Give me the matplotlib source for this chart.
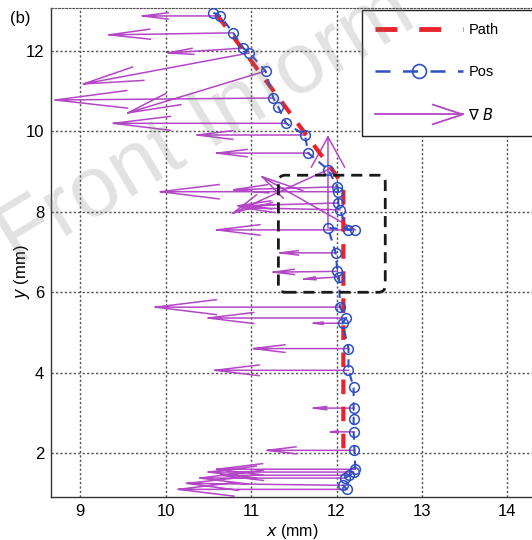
# -*- coding: utf-8 -*-
import numpy as np
import matplotlib
matplotlib.use('Agg')
import matplotlib.pyplot as plt
from matplotlib.lines import Line2D
from matplotlib.patches import FancyBboxPatch
from matplotlib.legend_handler import HandlerBase

plt.rcParams['font.family'] = ['Liberation Sans', 'DejaVu Sans']
plt.rcParams['mathtext.fontset'] = 'dejavusans'

# 规划路径 (Path)
path_x = [10.60, 12.00, 12.08, 12.08]
path_y = [12.90, 8.90, 8.60, 2.10]

# 定位结果 (Pos)
pos_x = [10.56, 10.64, 10.79, 10.91, 10.98, 11.17, 11.26, 11.32, 11.41, 11.63,
         11.67, 11.90, 12.01, 12.02, 12.02, 12.04, 12.13, 12.22, 11.90, 11.99,
         12.01, 12.03, 12.04, 12.11, 12.07, 12.14, 12.14, 12.20, 12.20, 12.20,
         12.20, 12.21, 12.22, 12.20, 12.15, 12.10, 12.08, 12.12]
pos_y = [12.95, 12.87, 12.45, 12.07, 11.95, 11.50, 10.83, 10.60, 10.20, 9.91,
         9.46, 9.05, 8.62, 8.50, 8.22, 8.05, 7.55, 7.55, 7.60, 6.98,
         6.52, 6.38, 5.63, 5.36, 5.23, 4.60, 4.06, 3.64, 3.12, 2.85,
         2.53, 2.07, 1.60, 1.53, 1.45, 1.38, 1.20, 1.10]

# 磁场梯度 (grad B)
grad_u = [0.00, -0.91, -1.45, -0.88, -1.94, -1.61, -2.55, 0.00, -2.02, -1.26,
          -1.07, -1.11, -1.21, -2.08, -1.17, -1.14, -1.53, -1.09, 0.00, -0.65,
          -0.75, -0.41, -2.16, -1.61, -0.34, -1.11, -1.56, 0.00, -0.47, 0.00,
          -0.27, -1.02, -1.62, -1.70, -1.50, -1.70, -1.83, -1.97]
grad_v = [0.00, 0.00, -0.05, -0.12, -0.77, -1.04, -0.05, 0.00, 0.00, 0.00,
          0.00, -1.08, -0.07, 0.00, -0.07, 0.05, 0.00, 1.32, 2.26, 0.00,
          -0.02, -0.05, 0.00, 0.00, 0.00, 0.00, 0.00, 0.00, 0.00, 0.00,
          0.00, 0.00, 0.00, 0.00, 0.00, 0.00, 0.05, 0.00]

# 放大区域
box_x = [11.32, 12.57]
box_y = [6.00, 8.91]

c_path = '#e8232b'
c_pos = '#2f4fc4'
c_arrow = '#b347c6'
c_grid = '#555050'

fig = plt.figure(figsize=(5.32, 5.40), dpi=100)
ax = fig.add_axes([51 / 532, 1 - 497 / 540, 483 / 532, (497 - 8.3) / 540])
ax.set_xlim(8.66, 14.31)
ax.set_ylim(0.91, 13.06)
ax.set_xticks([9, 10, 11, 12, 13, 14])
ax.set_yticks([2, 4, 6, 8, 10, 12])
ax.grid(True, linestyle=(0, (1.6, 1.6)), color=c_grid, linewidth=1.0)
ax.set_axisbelow(True)
ax.tick_params(length=0, labelsize=12, pad=5)
for s in ['left', 'bottom']:
    ax.spines[s].set_color('#333333')
    ax.spines[s].set_linewidth(1.0)
ax.spines['top'].set_linestyle((0, (1.6, 1.6)))
ax.spines['top'].set_color(c_grid)
ax.spines['right'].set_visible(False)

# 箭头 (仿 MATLAB quiver 的开口箭头)
alpha, beta = 0.33, 0.26
ax_x, ax_y = [], []
for x, y, du, dv in zip(pos_x, pos_y, grad_u, grad_v):
    if du == 0 and dv == 0:
        continue
    tx, ty = x + du, y + dv
    ax_x += [x, tx, np.nan,
             tx - alpha * (du + beta * dv), tx, tx - alpha * (du - beta * dv), np.nan]
    ax_y += [y, ty, np.nan,
             ty - alpha * (dv - beta * du), ty, ty - alpha * (dv + beta * du), np.nan]
ax.plot(ax_x, ax_y, color=c_arrow, lw=1.1, zorder=2)

ax.plot(path_x, path_y, color=c_path, lw=3.0, linestyle=(0, (3.5, 3.0)), zorder=3)
ax.plot(pos_x, pos_y, color=c_pos, lw=1.5, linestyle=(0, (4, 3)), marker='o',
        markersize=7, markerfacecolor='none', markeredgecolor=c_pos,
        markeredgewidth=1.1, zorder=4)

box = FancyBboxPatch((box_x[0], box_y[0]), box_x[1] - box_x[0], box_y[1] - box_y[0],
                     boxstyle='round,pad=0,rounding_size=0.08', mutation_aspect=85.4 / 40.2,
                     fill=False, edgecolor='#1a1a1a', lw=2.0, linestyle=(0, (4, 2.5)), zorder=5)
ax.add_patch(box)

ax.set_xlabel(r'$x$ (mm)', fontsize=11.5, labelpad=2)
ax.set_ylabel(r'$y$ (mm)', fontsize=12)
ax.yaxis.set_label_coords(-0.04, 0.462)


class ArrowHandler(HandlerBase):
    def create_artists(self, legend, orig_handle, xdescent, ydescent, width, height,
                       fontsize, trans):
        y = height / 2 - ydescent
        x0 = -xdescent
        x1 = x0 + width
        hl = 0.34 * width
        shaft = Line2D([x0, x1], [y, y], color=c_arrow, lw=1.3, transform=trans)
        head = Line2D([x1 - hl, x1, x1 - hl], [y + 0.33 * hl, y, y - 0.33 * hl],
                      color=c_arrow, lw=1.3, transform=trans)
        return [shaft, head]


h_path = Line2D([], [], color=c_path, lw=3.5, linestyle=(0, (4.5, 4.5)))
h_pos = Line2D([], [], color=c_pos, lw=1.8, linestyle=(0, (6, 5)), marker='o',
               markersize=10, markerfacecolor='none', markeredgecolor=c_pos, markeredgewidth=1.2)
h_arr = Line2D([], [], color=c_arrow)
leg = ax.legend([h_path, h_pos, h_arr], ['Path', 'Pos', r'$\nabla\ B$'],
                handler_map={h_arr: ArrowHandler()},
                loc='upper left', bbox_to_anchor=(362 / 532, 0, 175 / 532, 1 - 10 / 540),
                bbox_transform=fig.transFigure, mode='expand', borderaxespad=0,
                fontsize=10.5, handlelength=6.0, handletextpad=0.4, labelspacing=1.9,
                borderpad=0.9, fancybox=False, framealpha=1)
leg.get_frame().set_edgecolor('#222222')
leg.get_frame().set_linewidth(1.0)
leg.set_zorder(10)

fig.text(20 / 532, 1 - 19 / 540, '(b)', fontsize=12, ha='center', va='center')

# 水印
fig.text(16 / 532, 1 - 266 / 540, 'Front Inform', fontsize=62,
         rotation=31, rotation_mode='anchor', ha='left', va='baseline',
         color='#7a7a7a', alpha=0.22, zorder=20)

fig.savefig('out.png', dpi=100)
